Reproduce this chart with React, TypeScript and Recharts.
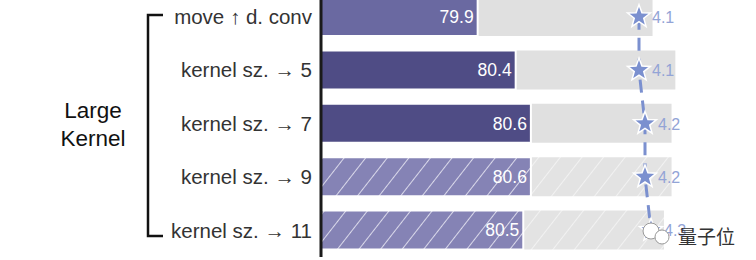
import React from 'react';
import { ComposedChart, Bar, Line, XAxis, YAxis, Cell, LabelList } from 'recharts';

// rows, top to bottom
const categories = ['move ↑ d. conv', 'kernel sz. → 5', 'kernel sz. → 7', 'kernel sz. → 9', 'kernel sz. → 11'];
const accuracy = [79.9, 80.4, 80.6, 80.6, 80.5];
const largeAccuracy = [82.2, 82.5, 82.45, 82.45, 82.35];
const gflops = [4.1, 4.1, 4.2, 4.2, 4.3];
const hatched = [false, false, false, true, true];

const data = categories.map((name, i) => ({
  name,
  acc: accuracy[i],
  large: largeAccuracy[i],
  flops: gflops[i],
}));

const purpleFill = (i: number) =>
  hatched[i] ? 'url(#hatchPurple)' : i === 0 ? '#6a69a1' : '#4f4c85';
const grayFill = (i: number) => (hatched[i] ? 'url(#hatchGray)' : '#e0e0e0');

const Star = (props: any) => {
  const { cx, cy, payload } = props;
  if (cx == null || cy == null) return <g />;
  const pts: string[] = [];
  for (let k = 0; k < 10; k++) {
    const r = k % 2 === 0 ? 12 : 5;
    const a = -Math.PI / 2 + (k * Math.PI) / 5;
    pts.push(`${cx + r * Math.cos(a)},${cy + r * Math.sin(a)}`);
  }
  return (
    <g>
      <polygon points={pts.join(' ')} fill="#7b90cf" stroke="#fff" strokeWidth={1.5} />
      <text x={cx + 13} y={cy + 6} fill="#93a4d6" fontSize={16}>
        {payload.flops.toFixed(1)}
      </text>
    </g>
  );
};

export default function App() {
  return (
    <div
      style={{
        position: 'absolute',
        left: 0,
        top: 0,
        width: 756,
        height: 260,
        overflow: 'hidden',
        background: '#fff',
        fontFamily: '"Liberation Sans", Arial, sans-serif',
      }}
    >
      <div style={{ position: 'absolute', left: 0, top: -10 }}>
        <ComposedChart
          layout="vertical"
          width={756}
          height={280}
          data={data}
          margin={{ top: 0, right: 16, bottom: 13, left: 0 }}
          barSize={39}
          barGap={-39}
        >
          <defs>
            <pattern id="hatchPurple" patternUnits="userSpaceOnUse" width={17} height={17} patternTransform="rotate(38)">
              <rect width={17} height={17} fill="#8583b5" />
              <line x1={0} y1={0} x2={0} y2={17} stroke="#e4e3f0" strokeWidth={1.8} />
            </pattern>
            <pattern id="hatchGray" patternUnits="userSpaceOnUse" width={17} height={17} patternTransform="rotate(38)">
              <rect width={17} height={17} fill="#e3e3e3" />
              <line x1={0} y1={0} x2={0} y2={17} stroke="#f4f4f4" strokeWidth={1.8} />
            </pattern>
          </defs>
          <XAxis xAxisId="acc" type="number" domain={[77.84, 83.35]} hide />
          <XAxis xAxisId="flops" type="number" domain={[-1.2, 5.7833]} hide />
          <YAxis
            type="category"
            dataKey="name"
            width={321}
            interval={0}
            tickLine={false}
            tickSize={0}
            tickMargin={9}
            axisLine={{ stroke: '#1a1a1a', strokeWidth: 3 }}
            tick={{ fill: '#333', fontSize: 20.5 }}
          />
          <Bar dataKey="large" xAxisId="acc" isAnimationActive={false}>
            {data.map((_, i) => (
              <Cell key={`g-${i}`} fill={grayFill(i)} />
            ))}
          </Bar>
          <Bar dataKey="acc" xAxisId="acc" stroke="#fff" strokeWidth={2} isAnimationActive={false}>
            {data.map((_, i) => (
              <Cell key={`p-${i}`} fill={purpleFill(i)} />
            ))}
            <LabelList dataKey="acc" position="insideRight" offset={4} fill="#fff" fontSize={17.5} />
          </Bar>
          <Line
            dataKey="flops"
            xAxisId="flops"
            type="linear"
            stroke="#7b90cf"
            strokeWidth={3}
            strokeDasharray="13 8"
            dot={Star}
            activeDot={false}
            isAnimationActive={false}
          />
        </ComposedChart>
      </div>
      <svg
        width={756}
        height={260}
        style={{ position: 'absolute', left: 0, top: 0, pointerEvents: 'none' }}
      >
        <path d="M163 15 H148 V236 H163" fill="none" stroke="#111" strokeWidth={2.5} />
        <text x={93} y={118} textAnchor="middle" fontSize={22.5} fill="#111">Large</text>
        <text x={93} y={146} textAnchor="middle" fontSize={22.5} fill="#111">Kernel</text>
        <circle cx={651} cy={231} r={8} fill="#fff" stroke="#999" strokeWidth={1} />
        <circle cx={662} cy={237} r={7} fill="#fff" stroke="#999" strokeWidth={1} />
        <text
          x={678}
          y={244}
          fontSize={19}
          fill="#333"
          fontFamily='"Noto Sans CJK SC", sans-serif'
        >
          量子位
        </text>
      </svg>
    </div>
  );
}
